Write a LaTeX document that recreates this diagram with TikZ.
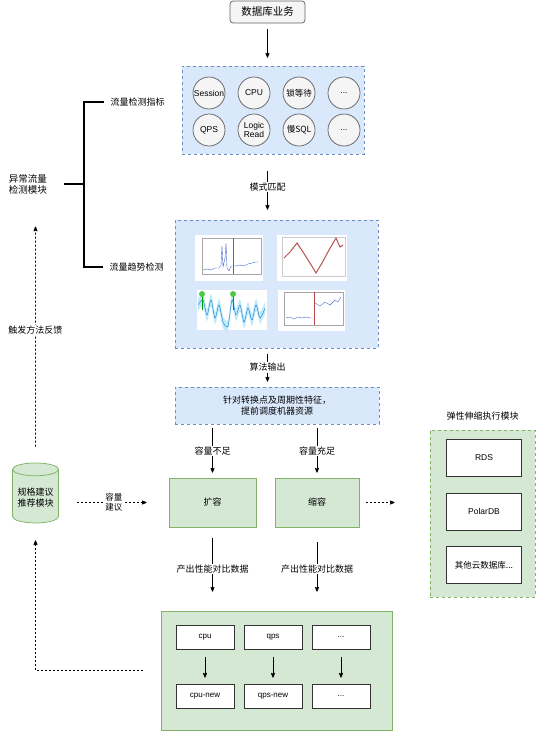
\documentclass[tikz,border=0pt]{standalone}
\usepackage{fontspec}
\setmainfont{Noto Sans CJK SC}
\newfontfamily\hel{Liberation Sans}
\usetikzlibrary{arrows}
\usetikzlibrary{positioning}
\usetikzlibrary{shapes.geometric}

\definecolor{bluefill}{HTML}{DAE8FC}
\definecolor{blueline}{HTML}{6C8EBF}
\definecolor{greenfill}{HTML}{D5E8D4}
\definecolor{greenline}{HTML}{82B366}
\definecolor{grayfill}{HTML}{F5F5F5}
\definecolor{grayline}{HTML}{666666}
\definecolor{chartblue}{HTML}{4A6CD4}
\definecolor{chartred}{HTML}{B85450}

\begin{document}
\begin{tikzpicture}[x=1pt, y=-1pt, line width=0.75pt]
        \tikzset{
          >=stealth',
          node distance=45pt,
          every node/.style={font=\fontsize{9}{11}\selectfont, align=center},
          flow/.style={->},
          tag/.style={fill=white, inner sep=1pt},
          bluebox/.style={draw=blueline, fill=bluefill, dashed},
          greenbox/.style={draw=greenline, fill=greenfill},
          metric/.style={
            circle,
            draw=grayline,
            fill=grayfill,
            minimum size=32pt,
            inner sep=0pt,
            font=\hel\fontsize{8.5}{9.5}\selectfont,
          },
          dbbox/.style={draw=black!80, fill=white, minimum width=75pt, minimum height=37pt, font=\hel\fontsize{8.5}{10}\selectfont},
          kpi/.style={draw=black!80, fill=white, minimum width=58pt, minimum height=24pt, font=\hel\fontsize{8}{9}\selectfont},
          feedback/.style={->, dash pattern=on 2pt off 2pt},
          chart/.style={fill=white, draw=none},
        }
        \useasboundingbox (0,0) rectangle (536,731);

        % business source and metrics
        \node[draw=grayline, fill=grayfill, rounded corners=3pt, minimum width=75pt, minimum height=22pt, font=\fontsize{10.5}{12}\selectfont] (biz) at (267.5,12) {数据库业务};
        \node[bluebox, minimum width=182pt, minimum height=88pt] (metrics) at (273,110) {};
        \node[metric] (msession) at (209,93) {Session};
        \node[metric, right of=msession] (mcpu) {CPU};
        \node[metric, right of=mcpu] (mlock) {\normalfont 锁等待};
        \node[metric, right of=mlock] (mmore) {...};
        \node[metric, below of=msession, node distance=37pt] (mqps) {QPS};
        \node[metric, right of=mqps] (mlogic) {Logic\\Read};
        \node[metric, right of=mlogic] (mslow) {\normalfont 慢SQL};
        \node[metric, right of=mslow] (mmoretwo) {...};

        % anomaly detection bracket
        \node[anchor=west] (idxlabel) at (107,102) {流量检测指标};
        \node[anchor=west] (trendlabel) at (106,267) {流量趋势检测};
        \node[font=\fontsize{9.5}{11}\selectfont] (anomaly) at (28,184) {异常流量\\检测模块};
        \coordinate (fork) at (84,184);
        \draw[line width=1.4pt] ([xshift=-3pt]idxlabel.west) -| (fork) |- ([xshift=-3pt]trendlabel.west);
        \draw[line width=1.4pt] (fork) -- ++(-20,0);

        % trend charts
        \node[bluebox, minimum width=203pt, minimum height=128pt] (charts) at (276.5,284) {};
        \fill[chart] (195,235) rectangle (263,281);
        \draw[gray!70, very thin] (202,238) rectangle (261,274);
        \draw[chartblue, thin] plot coordinates {(203,270) (207,269) (211,270) (215,268) (219,268) (221,265) (222,246) (223,267) (225,258) (226,243) (227,268) (229,271) (231,266) (235,266) (240,265) (244,266) (248,264) (252,263) (256,262) (259,262)};
        \draw[chartred!80!purple, thin] (233,238) -- (233,274);
        \fill[chart] (277,235) rectangle (347,281);
        \draw[gray!40, very thin] (282,237) rectangle (345,276);
        \draw[chartred, line width=1pt] plot coordinates {(284,258) (290,252) (297,243) (303,252) (310,263) (316,273) (322,263) (329,250) (336,238) (340,247) (343,245)};
        \fill[chart] (197,290) rectangle (267,330);
        \fill[cyan!25] plot[smooth] coordinates {(198,299) (203,294) (207,309) (211,294) (215,312) (219,299) (223,316) (228,320) (232,294) (236,309) (240,299) (244,316) (248,302) (252,314) (256,299) (260,312) (265,302)} -- (265,314) -- plot[smooth] coordinates {(260,324) (256,311) (252,326) (248,314) (244,328) (240,311) (236,321) (232,306) (228,330) (223,328) (219,311) (215,324) (211,306) (207,321) (203,306) (198,311)} -- cycle;
        \draw[cyan!60!blue, thin] plot[smooth] coordinates {(198,305) (203,300) (207,315) (211,300) (215,318) (219,305) (223,322) (228,326) (232,300) (236,315) (240,305) (244,322) (248,308) (252,320) (256,305) (260,318) (265,308)};
        \draw[green!60!black] (202,294) -- (202,310) (233,294) -- (233,310);
        \fill[green!70!black!70] (202,294) circle (3) (233,294) circle (3);
        \fill[chart] (278,290) rectangle (345,331);
        \draw[gray!70, very thin] (284,292) rectangle (343,325);
        \draw[chartblue, thin] plot coordinates {(286,318) (290,317) (294,319) (298,317) (302,318) (306,317) (310,318) (313,318)};
        \draw[chartred!80!purple, thin] (314,292) -- (314,325);
        \draw[chartblue, thin] plot coordinates {(315,303) (320,306) (325,302) (330,305) (335,300) (338,302) (341,297)};

        % capacity plan
        \node[bluebox, minimum width=204pt, minimum height=37pt] (plan) at (277,405.5) {针对转换点及周期性特征，\\提前调度机器资源};
        \node[greenbox, minimum width=87pt, minimum height=49pt] (expand) at (212.5,502.5) {扩容};
        \node[greenbox, minimum width=84pt, minimum height=49pt] (shrink) at (317,502.5) {缩容};

        % elastic execution
        \node[greenbox, dashed, minimum width=105pt, minimum height=167pt] (exec) at (482.5,513.5) {};
        \node[above=6pt of exec] (execlabel) {弹性伸缩执行模块};
        \node[dbbox] (rds) at (484,458) {RDS};
        \node[dbbox, below of=rds, node distance=53.5pt] (polardb) {PolarDB};
        \node[dbbox, below of=polardb, node distance=53.5pt] (otherdb) {\normalfont 其他云数据库...};

        % spec recommendation
        \node[cylinder, shape border rotate=90, aspect=0.3, draw=greenline, fill=greenfill, minimum width=46pt, minimum height=60pt] (spec) at (35.5,498) {规格建议\\推荐模块};

        % performance results
        \node[greenbox, minimum width=231pt, minimum height=119pt] (result) at (276.5,670.5) {};
        \node[kpi] (kcpu) at (205,637) {cpu};
        \node[kpi, right of=kcpu, node distance=68pt] (kqps) {qps};
        \node[kpi, right of=kqps, node distance=68pt] (kmore) {...};
        \node[kpi, below of=kcpu, node distance=59pt] (kcpunew) {cpu-new};
        \node[kpi, below of=kqps, node distance=59pt] (kqpsnew) {qps-new};
        \node[kpi, below of=kmore, node distance=59pt] (kmorenew) {...};

        \draw
          (biz) edge[flow, shorten <=6pt, shorten >=8pt] (metrics.north -| biz)
          (metrics.south -| biz) edge[flow, shorten <=17pt, shorten >=10pt] node[tag]{模式匹配} (charts.north -| biz)
          (charts.south -| biz) edge[flow, shorten <=6pt, shorten >=5pt] node[tag]{算法输出} (plan.north -| biz)
          (plan.south -| expand) edge[flow, shorten <=4pt, shorten >=5pt] node[tag]{容量不足} (expand)
          (plan.south -| shrink) edge[flow, shorten <=4pt, shorten >=5pt] node[tag]{容量充足} (shrink)
          (expand) edge[flow, shorten <=11pt, shorten >=19pt] node[tag]{产出性能对比数据} (result.north -| expand)
          (shrink) edge[flow, shorten <=15pt, shorten >=19pt] node[tag]{产出性能对比数据} (result.north -| shrink)
          (shrink) edge[feedback, shorten <=7pt, shorten >=35pt] (shrink -| exec.west)
          (spec.east |- expand) edge[feedback, shorten <=18pt, shorten >=22pt] node[tag, font=\fontsize{8.5}{10}\selectfont]{容量\\建议} (expand)
          (spec.north) edge[feedback, shorten <=16pt, shorten >=29pt] node[tag]{触发方法反馈} (anomaly.south -| spec)
          (kcpu) edge[flow, shorten <=8pt, shorten >=6pt] (kcpunew)
          (kqps) edge[flow, shorten <=8pt, shorten >=6pt] (kqpsnew)
          (kmore) edge[flow, shorten <=8pt, shorten >=6pt] (kmorenew);
        \draw[feedback, shorten <=18pt, shorten >=17pt] (result.west) -| (spec.south);
\end{tikzpicture}
\end{document}
